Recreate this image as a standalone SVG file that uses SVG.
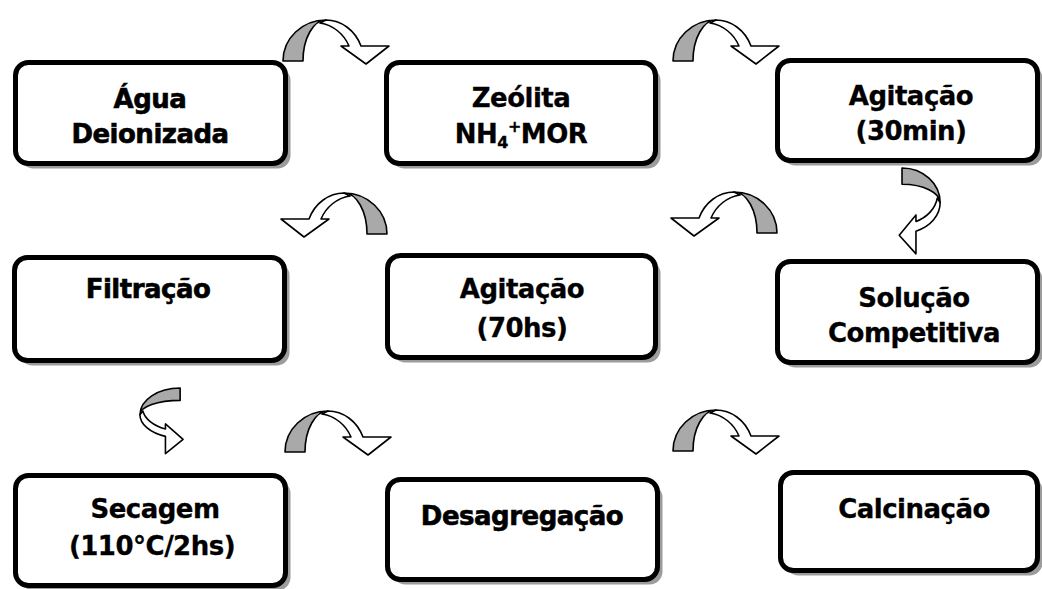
<svg xmlns="http://www.w3.org/2000/svg" xmlns:xlink="http://www.w3.org/1999/xlink" width="1042" height="589" viewBox="0 0 1042 589">
  <style>
    .shadow { fill: #9c9c9c; }
    .box { fill: #ffffff; stroke: #000000; stroke-width: 5; }
    .label { font-family: "DejaVu Sans", "Liberation Sans", sans-serif; font-weight: bold; font-size: 26px; letter-spacing: -0.5px; fill: #000000; stroke: #000000; stroke-width: 0.3; text-anchor: middle; }
    .heavy { stroke-width: 0.6; }
    .back { fill: #a9a9a9; stroke: #000000; stroke-width: 1.6; stroke-linejoin: round; vector-effect: non-scaling-stroke; }
    .front { fill: #ffffff; stroke: #000000; stroke-width: 1.6; stroke-linejoin: round; vector-effect: non-scaling-stroke; }
  </style>
  <defs>
    <!-- curved ribbon arrow: shaded back half on the left, white front half ending in a head -->
    <g id="curve">
      <path class="back" d="M0,43 A43,41 0 0 1 43,2 A23,41 0 0 0 20,43 Z"/>
      <path class="front" d="M43,2 C58,2 72,12 78,28 L106,28 L83,46 L58,28 L66,28 C61,16 50,7 37,5 Z"/>
    </g>
  </defs>
  <rect width="1042" height="589" fill="#ffffff"/>

  <g id="connectors">
    <use xlink:href="#curve" transform="translate(283,18)"/>
    <use xlink:href="#curve" transform="translate(673,18)"/>
    <use xlink:href="#curve" transform="translate(942,168) rotate(90) scale(0.81,0.93)"/>
    <use xlink:href="#curve" transform="translate(777,190) scale(-1,1)"/>
    <use xlink:href="#curve" transform="translate(387,191) scale(-1,1)"/>
    <use xlink:href="#curve" transform="translate(138,388) scale(-1,1) rotate(90) scale(0.62,0.98)"/>
    <use xlink:href="#curve" transform="translate(285,409)"/>
    <use xlink:href="#curve" transform="translate(673,408)"/>
  </g>

  <g id="agua">
    <rect class="shadow" x="20.5" y="67.5" width="270" height="101" rx="13"/>
    <rect class="box" x="15.5" y="62.5" width="270" height="101" rx="13"/>
    <text class="label heavy" x="150" y="108">Água</text>
    <text class="label heavy" x="150" y="143">Deionizada</text>
  </g>

  <g id="zeolita">
    <rect class="shadow" x="391.5" y="67.5" width="269" height="101" rx="13"/>
    <rect class="box" x="386.5" y="62.5" width="269" height="101" rx="13"/>
    <text class="label" x="521" y="107">Zeólita</text>
    <text class="label" x="521" y="143">NH<tspan font-size="16" dy="5">4</tspan><tspan font-size="16" dy="-16">+</tspan><tspan dy="11">MOR</tspan></text>
  </g>

  <g id="agitacao-30">
    <rect class="shadow" x="782.5" y="65.5" width="260" height="100" rx="13"/>
    <rect class="box" x="777.5" y="60.5" width="260" height="100" rx="13"/>
    <text class="label" x="911" y="105">Agitação</text>
    <text class="label" x="911" y="140">(30min)</text>
  </g>

  <g id="filtracao">
    <rect class="shadow" x="19.5" y="262.5" width="270" height="103" rx="13"/>
    <rect class="box" x="14.5" y="257.5" width="270" height="103" rx="13"/>
    <text class="label heavy" x="148" y="298" font-size="27">Filtração</text>
  </g>

  <g id="agitacao-70">
    <rect class="shadow" x="392.5" y="260.5" width="268" height="102" rx="13"/>
    <rect class="box" x="387.5" y="255.5" width="268" height="102" rx="13"/>
    <text class="label" x="522" y="298">Agitação</text>
    <text class="label" x="522" y="337">(70hs)</text>
  </g>

  <g id="solucao">
    <rect class="shadow" x="782.5" y="266.5" width="260" height="101" rx="13"/>
    <rect class="box" x="777.5" y="261.5" width="260" height="101" rx="13"/>
    <text class="label" x="914" y="307">Solução</text>
    <text class="label" x="914" y="342">Competitiva</text>
  </g>

  <g id="secagem">
    <rect class="shadow" x="20.5" y="480.5" width="270" height="110" rx="13"/>
    <rect class="box" x="15.5" y="475.5" width="270" height="110" rx="13"/>
    <text class="label" x="155" y="518" font-size="24.5">Secagem</text>
    <text class="label" x="152" y="555" letter-spacing="0.5">(110°C/2hs)</text>
  </g>

  <g id="desagregacao">
    <rect class="shadow" x="392.5" y="484.5" width="270" height="100" rx="13"/>
    <rect class="box" x="387.5" y="479.5" width="270" height="100" rx="13"/>
    <text class="label heavy" x="522" y="525" font-size="25.5">Desagregação</text>
  </g>

  <g id="calcinacao">
    <rect class="shadow" x="785.5" y="477.5" width="257" height="98" rx="13"/>
    <rect class="box" x="780.5" y="472.5" width="257" height="98" rx="13"/>
    <text class="label" x="914" y="518">Calcinação</text>
  </g>
</svg>
